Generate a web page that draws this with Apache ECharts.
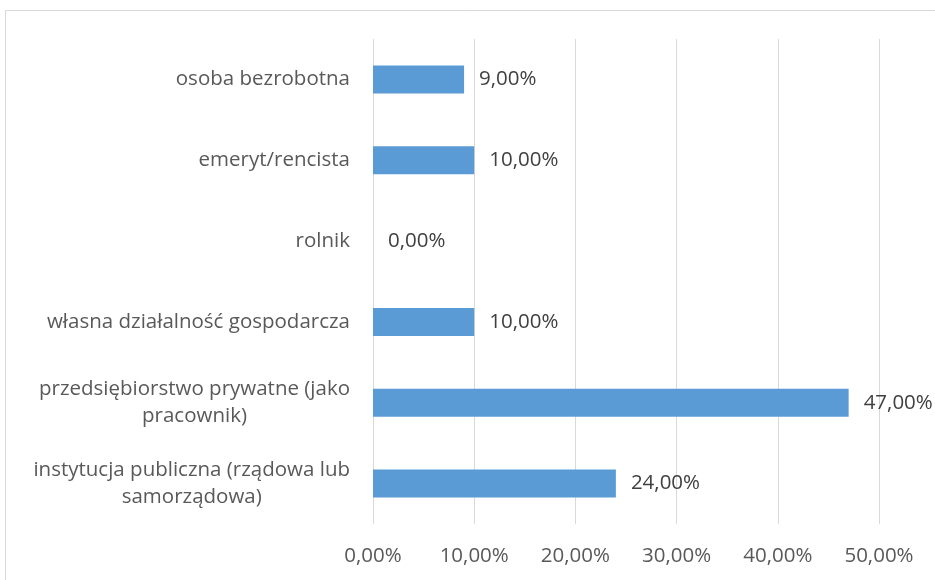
<!DOCTYPE html>
<html>
<head>
<meta charset="utf-8">
<title>Status zawodowy</title>
<script src="https://cdn.jsdelivr.net/npm/echarts@6/dist/echarts.min.js"></script>
<style>
	html, body { margin: 0; padding: 0; background: #fff; }
	#chart { width: 935px; height: 580px; }
</style>
</head>
<body>
	<div id="chart"></div>
	<script type="text/javascript">
		// kategorie od dołu do góry
		var kategorie = [
			'instytucja publiczna (rządowa lub\nsamorządowa)',
			'przedsiębiorstwo prywatne (jako\npracownik)',
			'własna działalność gospodarcza',
			'rolnik',
			'emeryt/rencista',
			'osoba bezrobotna'
		];
		var wartosci = [24, 47, 10, 0, 10, 9];
		var osX = { min: 0, max: 50, interval: 10 };

		function procent(v) {
			return v.toFixed(2).replace('.', ',') + '%';
		}

		var font = '"Open Sans", sans-serif';
		var rozmiar = 20.5;

		var option = {
			animation: false,
			graphic: [{
				type: 'rect',
				shape: { x: 5.5, y: 10.5, width: 960, height: 600 },
				style: { fill: 'none', stroke: '#d9d9d9', lineWidth: 1 },
				silent: true
			}],
			grid: {
				left: 373,
				right: 56,
				top: 39,
				bottom: 56
			},
			xAxis: {
				type: 'value',
				min: osX.min,
				max: osX.max,
				interval: osX.interval,
				axisLine: { show: false },
				axisTick: { show: false },
				splitLine: { lineStyle: { color: '#d9d9d9', width: 1 } },
				axisLabel: {
					margin: 22,
					color: '#595959',
					fontSize: rozmiar,
					fontFamily: font,
					formatter: procent
				}
			},
			yAxis: {
				type: 'category',
				data: kategorie,
				axisLine: { show: false },
				axisTick: { show: false },
				axisLabel: {
					margin: 23,
					color: '#595959',
					fontSize: rozmiar,
					fontFamily: font,
					lineHeight: 27,
					formatter: function (v) {
						return v.split('\n').map(function (s) { return '{c|' + s + '}'; }).join('\n');
					},
					rich: {
						c: { align: 'center', fontSize: rozmiar, fontFamily: font, color: '#595959', lineHeight: 27 }
					}
				}
			},
			series: [{
				type: 'bar',
				data: wartosci,
				barWidth: 28,
				itemStyle: { color: '#5b9bd5' },
				label: {
					show: true,
					position: 'right',
					distance: 15,
					color: '#404040',
					fontSize: rozmiar,
					fontFamily: font,
					formatter: function (p) { return procent(p.value); }
				}
			}]
		};

		var chart = echarts.init(document.getElementById('chart'));
		chart.setOption(option);
	</script>
</body>
</html>
